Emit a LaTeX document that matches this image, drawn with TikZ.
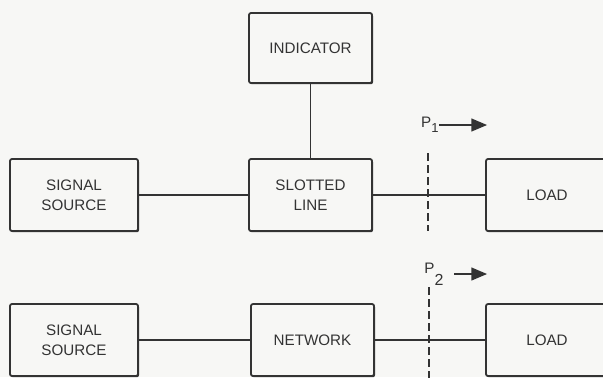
\documentclass[tikz,border=0pt]{standalone}
\usepackage{fontspec}
\setmainfont{Liberation Sans}
\usepackage{xcolor}
\usepackage{tikz}
\usetikzlibrary{arrows,positioning,shadows}

\definecolor{ink}{HTML}{333333}
\definecolor{paper}{HTML}{F7F7F5}

\begin{document}
\begin{tikzpicture}[x=0.5pt, y=-0.5pt, every node/.style={font=\fontsize{7.6}{10}\selectfont, text=ink}]
\tikzstyle{blk} = [rectangle, rounded corners=1pt, minimum width=61.5pt, minimum height=36pt, inner sep=0pt, outer sep=0pt, align=center, draw=ink, line width=0.9pt, fill=paper, drop shadow={shadow xshift=0.5pt, shadow yshift=-0.6pt, fill=ink, opacity=1}]
\tikzstyle{wire} = [draw=ink, line width=0.9pt]
\tikzstyle{cut} = [draw=ink, line width=0.7pt, dash pattern=on 4pt off 2pt]
\tikzstyle{arrow} = [draw=ink, line width=0.8pt, ->, >=triangle 45]

\fill[paper] (0,0) rectangle (603,377);
\clip (0,0) rectangle (603,377);

% upper set-up
\node (src1) [blk, minimum width=64pt] at (74,195) {SIGNAL\\SOURCE};
\node (slot) [blk, right=55.5pt of src1] {SLOTTED\\LINE};
\node (load1) [blk, minimum width=61pt, right=57pt of slot] {LOAD};
\node (ind) [blk, minimum height=35pt, above=38pt of slot] {INDICATOR};

% lower set-up
\node (src2) [blk, minimum width=64pt] at (74,340) {SIGNAL\\SOURCE};
\node (net) [blk, right=56.5pt of src2] {NETWORK};
\node (load2) [blk, minimum width=61pt, right=56pt of net] {LOAD};

\draw[wire] (src1) -- (slot);
\draw[wire] (slot) -- (load1);
\draw[wire] (ind) -- (slot);
\draw[wire] (src2) -- (net);
\draw[wire] (net) -- (load2);

% reference planes
\coordinate (c1a) at (428,153);
\coordinate (c1b) at (428,231);
\coordinate (c2a) at (429,287);
\coordinate (c2b) at (429,380);
\draw[cut] (c1a) -- (c1b);
\draw[cut] (c2a) -- (c2b);

\node (p1) [inner sep=0pt, anchor=east] at (439,125) {P\raisebox{-2.5pt}{\fontsize{6.5}{6.5}\selectfont 1}};
\node (p2) [inner sep=0pt, anchor=west] at (424,274) {P\raisebox{-6pt}{\fontsize{8}{8}\selectfont 2}};
\coordinate (e1) at (487,125);
\coordinate (s2) at (454,274);
\coordinate (e2) at (487,274);
\draw[arrow] (p1) -- (e1);
\draw[arrow] (s2) -- (e2);
\end{tikzpicture}
\end{document}
